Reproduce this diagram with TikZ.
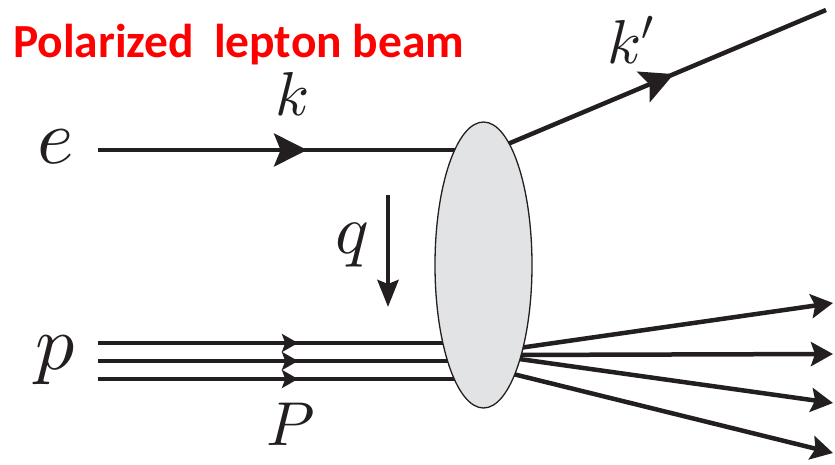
\documentclass[tikz,border=0pt]{standalone}
\usepackage{fontspec}
\newfontfamily\titlefont{Carlito}
\DeclareFontFamily{OML}{cmm}{\skewchar\font127 }
\DeclareFontShape{OML}{cmm}{m}{it}{<->cmmi10}{}
\DeclareFontFamily{OMS}{cmsy}{\skewchar\font48 }
\DeclareFontShape{OMS}{cmsy}{m}{n}{<->cmsy10}{}
\usetikzlibrary{arrows.meta,decorations.markings,shapes.geometric}
\pgfdeclarelayer{bg}
\pgfsetlayers{bg,main}
\definecolor{ink}{RGB}{35,31,32}
\definecolor{blobgray}{RGB}{225,227,229}
\tikzset{
  lbl/.style={inner sep=0pt, text=ink},
  beam/.style={draw=ink, line width=4.5pt},
  midarrow/.style n args={3}{postaction={decorate},
    decoration={markings, mark=at position #1 with {\arrow{Stealth[length=#2,width=#3,inset=0.2*#2]}}}},
  outarrow/.style={beam, -{Stealth[length=22pt,width=24pt,inset=4pt]}},
}
\begin{document}
\begin{tikzpicture}[x=1pt,y=-1pt]
\useasboundingbox (0,0) rectangle (835,464);
% blob
\node[ellipse, draw=ink, line width=1.3pt, fill=blobgray, minimum width=97pt, minimum height=286pt, inner sep=0pt] (blob) at (483.5,265) {};
% title
\node[anchor=base west, inner sep=0pt, text=red, font=\titlefont\bfseries\fontsize{47.5}{47.5}\selectfont] (title) at (13,57) {Polarized\hspace{9pt} lepton beam};
% labels
\node[lbl, font=\fontsize{78}{78}\selectfont] (le) at (56,147) {$e$};
\node[lbl, font=\fontsize{78}{78}\selectfont] (lp) at (55,360) {$p$};
\node[lbl, font=\fontsize{62}{62}\selectfont] (lk) at (293,93.5) {$k$};
\node[lbl, font=\fontsize{62}{62}\selectfont, anchor=base] (lkp) at (631,63) {$k'$};
\node[lbl, font=\fontsize{70}{70}\selectfont] (lq) at (352,245) {$q$};
\node[lbl, font=\fontsize{62}{62}\selectfont] (lP) at (291,424) {$P$};
% coordinates
\coordinate (eL) at (98,150);
\coordinate (pL1) at (98,343);
\coordinate (pL2) at (98,361);
\coordinate (pL3) at (98,379);
\coordinate (kin) at (484,154);
\coordinate (kout) at (826,10);
\coordinate (qtop) at (388,195);
\coordinate (qbot) at (388,307);
\coordinate (o1s) at (505,350); \coordinate (o1e) at (833,303);
\coordinate (o2s) at (505,355); \coordinate (o2e) at (833,354);
\coordinate (o3s) at (505,357); \coordinate (o3e) at (833,403);
\coordinate (o4s) at (505,372); \coordinate (o4e) at (833,453);
\begin{pgfonlayer}{bg}
\draw[beam, midarrow={209pt}{33pt}{33pt}] (eL) -- (blob.center |- eL);
\draw[beam, midarrow={200pt}{16pt}{18pt}] (pL1) -- (blob.center |- pL1);
\draw[beam, midarrow={200pt}{16pt}{18pt}] (pL2) -- (blob.center |- pL2);
\draw[beam, midarrow={200pt}{16pt}{18pt}] (pL3) -- (blob.center |- pL3);
\draw[beam, midarrow={206pt}{33pt}{33pt}] (kin) -- (kout);
\draw[outarrow] (o1s) -- (o1e);
\draw[outarrow] (o2s) -- (o2e);
\draw[outarrow] (o3s) -- (o3e);
\draw[outarrow] (o4s) -- (o4e);
\end{pgfonlayer}
\draw[beam, -{Stealth[length=27pt,width=21pt,inset=4pt]}] (qtop) -- (qbot);
\end{tikzpicture}
\end{document}
